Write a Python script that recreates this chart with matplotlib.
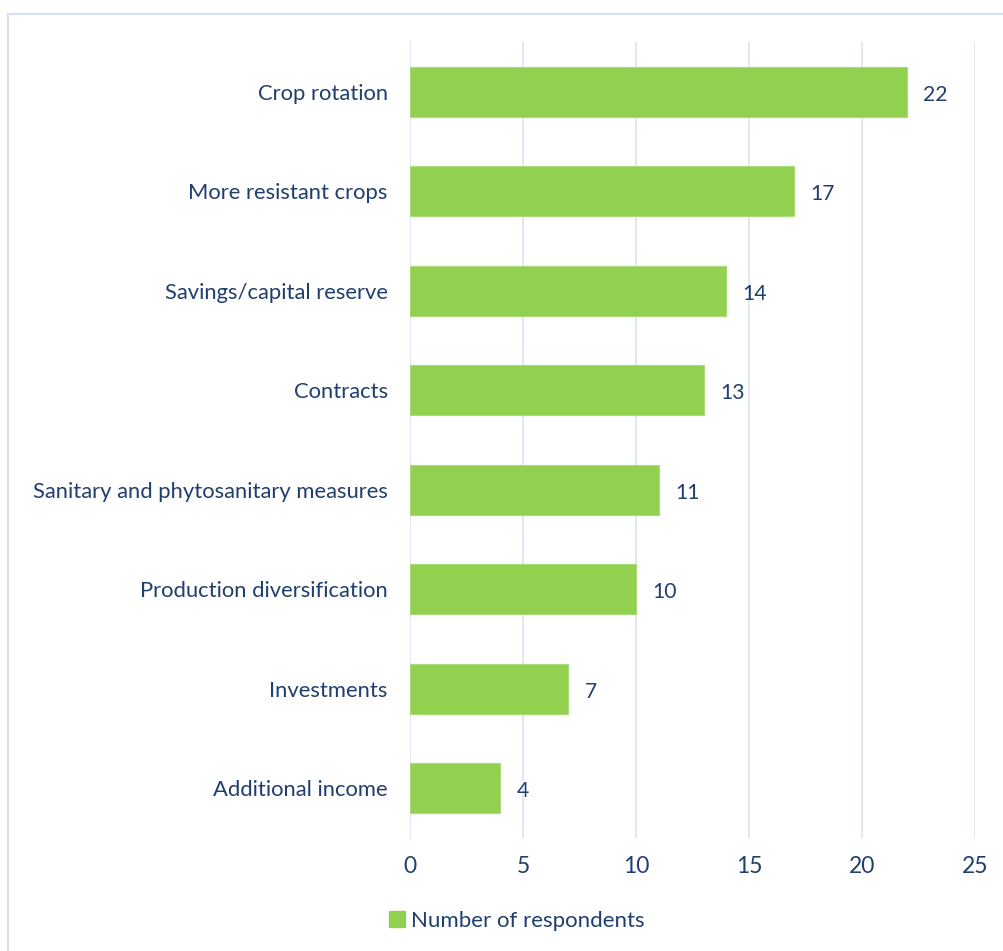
import matplotlib
matplotlib.use("Agg")
import matplotlib.pyplot as plt
from matplotlib.lines import Line2D
from matplotlib.patches import Patch

categories = ["Crop rotation", "More resistant crops", "Savings/capital reserve",
              "Contracts", "Sanitary and phytosanitary measures",
              "Production diversification", "Investments", "Additional income"]
values = [22, 17, 14, 13, 11, 10, 7, 4]
xticks = [0, 5, 10, 15, 20, 25]
series_name = "Number of respondents"

TXT = "#203F6E"
BAR = "#92D050"
GRID = "#D9E3F2"

plt.rcParams['font.family'] = ['Lato', 'DejaVu Sans']

fig = plt.figure(figsize=(10.04, 9.51), dpi=100)
ax = fig.add_axes([410/1004, 1-838/951, (975-410)/1004, (838-42)/951])

ypos = list(range(len(categories)))
ax.barh(ypos, values, height=0.5, color=BAR, edgecolor="#A9DC78", linewidth=0.8, zorder=3)
for y, v in zip(ypos, values):
    ax.text(v + 0.72, y + 0.03, str(v), va="center", ha="left", color=TXT, fontsize=15.2)

ax.set_ylim(len(categories) - 0.5, -0.5)
ax.set_xlim(0, 25)
ax.set_xticks(xticks)
ax.set_yticks(ypos)
ax.set_yticklabels(categories)
ax.tick_params(axis="y", length=0, pad=16, labelsize=15.8, labelcolor=TXT)
ax.tick_params(axis="x", length=0, pad=13, labelsize=16.5, labelcolor=TXT)
ax.grid(axis="x", color=GRID, linewidth=1.2, zorder=0)
for s in ax.spines.values():
    s.set_visible(False)

# figure border (left and top visible)
fig.add_artist(Line2D([8.5/1004, 8.5/1004], [0, 1-14/951], color="#D6E0EE", linewidth=1.5, transform=fig.transFigure))
fig.add_artist(Line2D([8.5/1004, 1], [1-14/951, 1-14/951], color="#D6E0EE", linewidth=1.5, transform=fig.transFigure))

handles = [Patch(facecolor=BAR, edgecolor=BAR)]
fig.legend(handles, [series_name], loc="center", bbox_to_anchor=(517/1004, 1-921/951),
           frameon=False, fontsize=16, labelcolor=TXT, handlelength=0.7, handleheight=0.7,
           handletextpad=0.3)

fig.savefig("out.png", dpi=100)
